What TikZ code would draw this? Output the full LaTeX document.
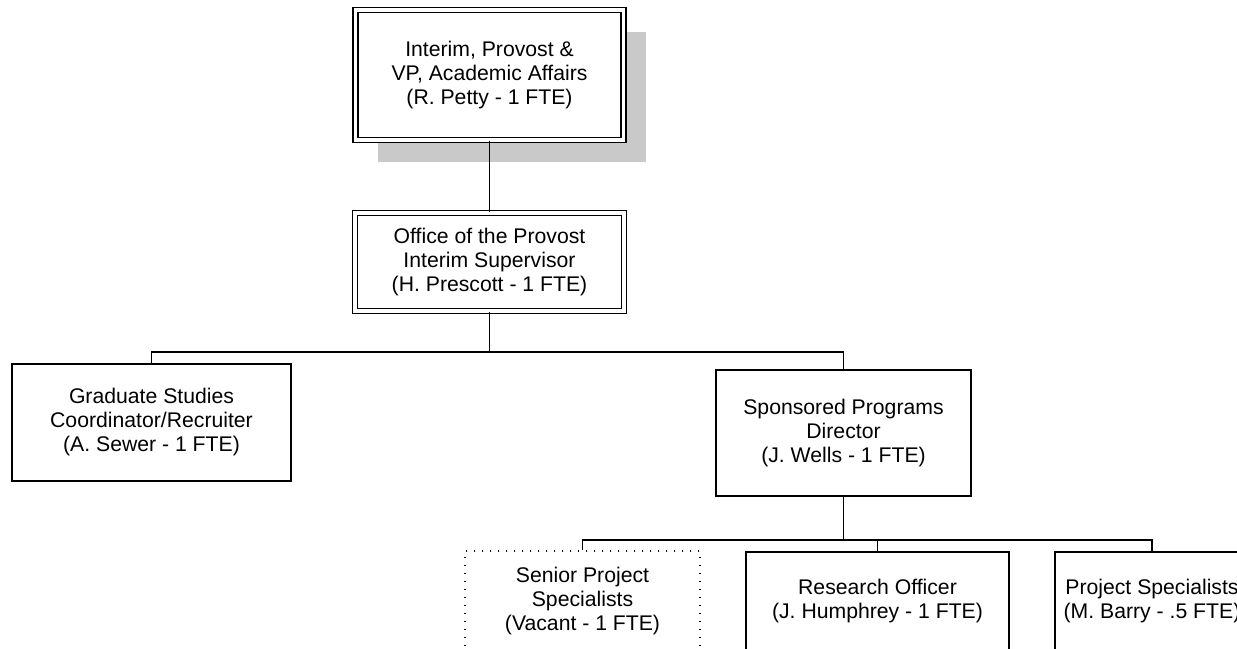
\documentclass[tikz,border=0pt]{standalone}
\usepackage{fontspec}
\setmainfont{Liberation Sans}
\usetikzlibrary{shadows}

\begin{document}
\begin{tikzpicture}[x=0.5pt,y=-0.5pt,font=\fontsize{10.6}{12}\selectfont,
	box/.style={draw,fill=white,line width=.7pt,align=center,inner sep=0pt},
	dbox/.style={box,double,double distance=1.8pt},
	vacant/.style={box,line width=.7pt,dash pattern=on .7pt off 3.3pt},
	link/.style={line width=.7pt}]
	\useasboundingbox (0,0) rectangle (1237,648);
	\clip (0,0) rectangle (1237,648);

	%top levels
	\node[dbox,minimum width=134pt,minimum height=65pt,
		drop shadow={shadow xshift=11pt,shadow yshift=-11pt,fill=gray!42,opacity=1}]
		(provost) at (489.5,75) {Interim, Provost \&\\VP, Academic Affairs\\(R. Petty - 1 FTE)};
	\node[dbox,minimum width=134.5pt,minimum height=49pt] (office) at (489.5,262)
		{Office of the Provost\\Interim Supervisor\\(H. Prescott - 1 FTE)};

	%second row
	\node[box,minimum width=139.5pt,minimum height=58.5pt] (grad) at (151.5,422.5)
		{Graduate Studies\\Coordinator/Recruiter\\(A. Sewer - 1 FTE)};
	\node[box,minimum width=127.5pt,minimum height=63pt] (spons) at (843.5,433)
		{Sponsored Programs\\Director\\(J. Wells - 1 FTE)};

	%third row
	\node[vacant,minimum width=117.5pt,minimum height=50pt] (senior) at (582.5,601)
		{Senior Project\\Specialists\\(Vacant - 1 FTE)};
	\node[box,minimum width=131.5pt,minimum height=49pt] (research) at (877.5,601)
		{Research Officer\\(J. Humphrey - 1 FTE)};
	\node[box,minimum width=97pt,minimum height=49pt] (proj) at (1152,601)
		{Project Specialists\\(M. Barry - .5 FTE)};

	%buses
	\coordinate (busA) at (0,352);
	\coordinate (busB) at (0,540);

	\draw[link] (provost) -- (office);
	\draw[link] (office.south) -- (office.south |- busA);
	\draw[link] (grad.north) |- (office.south |- busA) -| (spons.north);
	\draw[link] (spons.south) -- (spons.south |- busB);
	\draw[link] (senior.north) |- (spons.south |- busB) -| (proj.north);
	\draw[link] (research.north) -- (research.north |- busB);
\end{tikzpicture}
\end{document}
